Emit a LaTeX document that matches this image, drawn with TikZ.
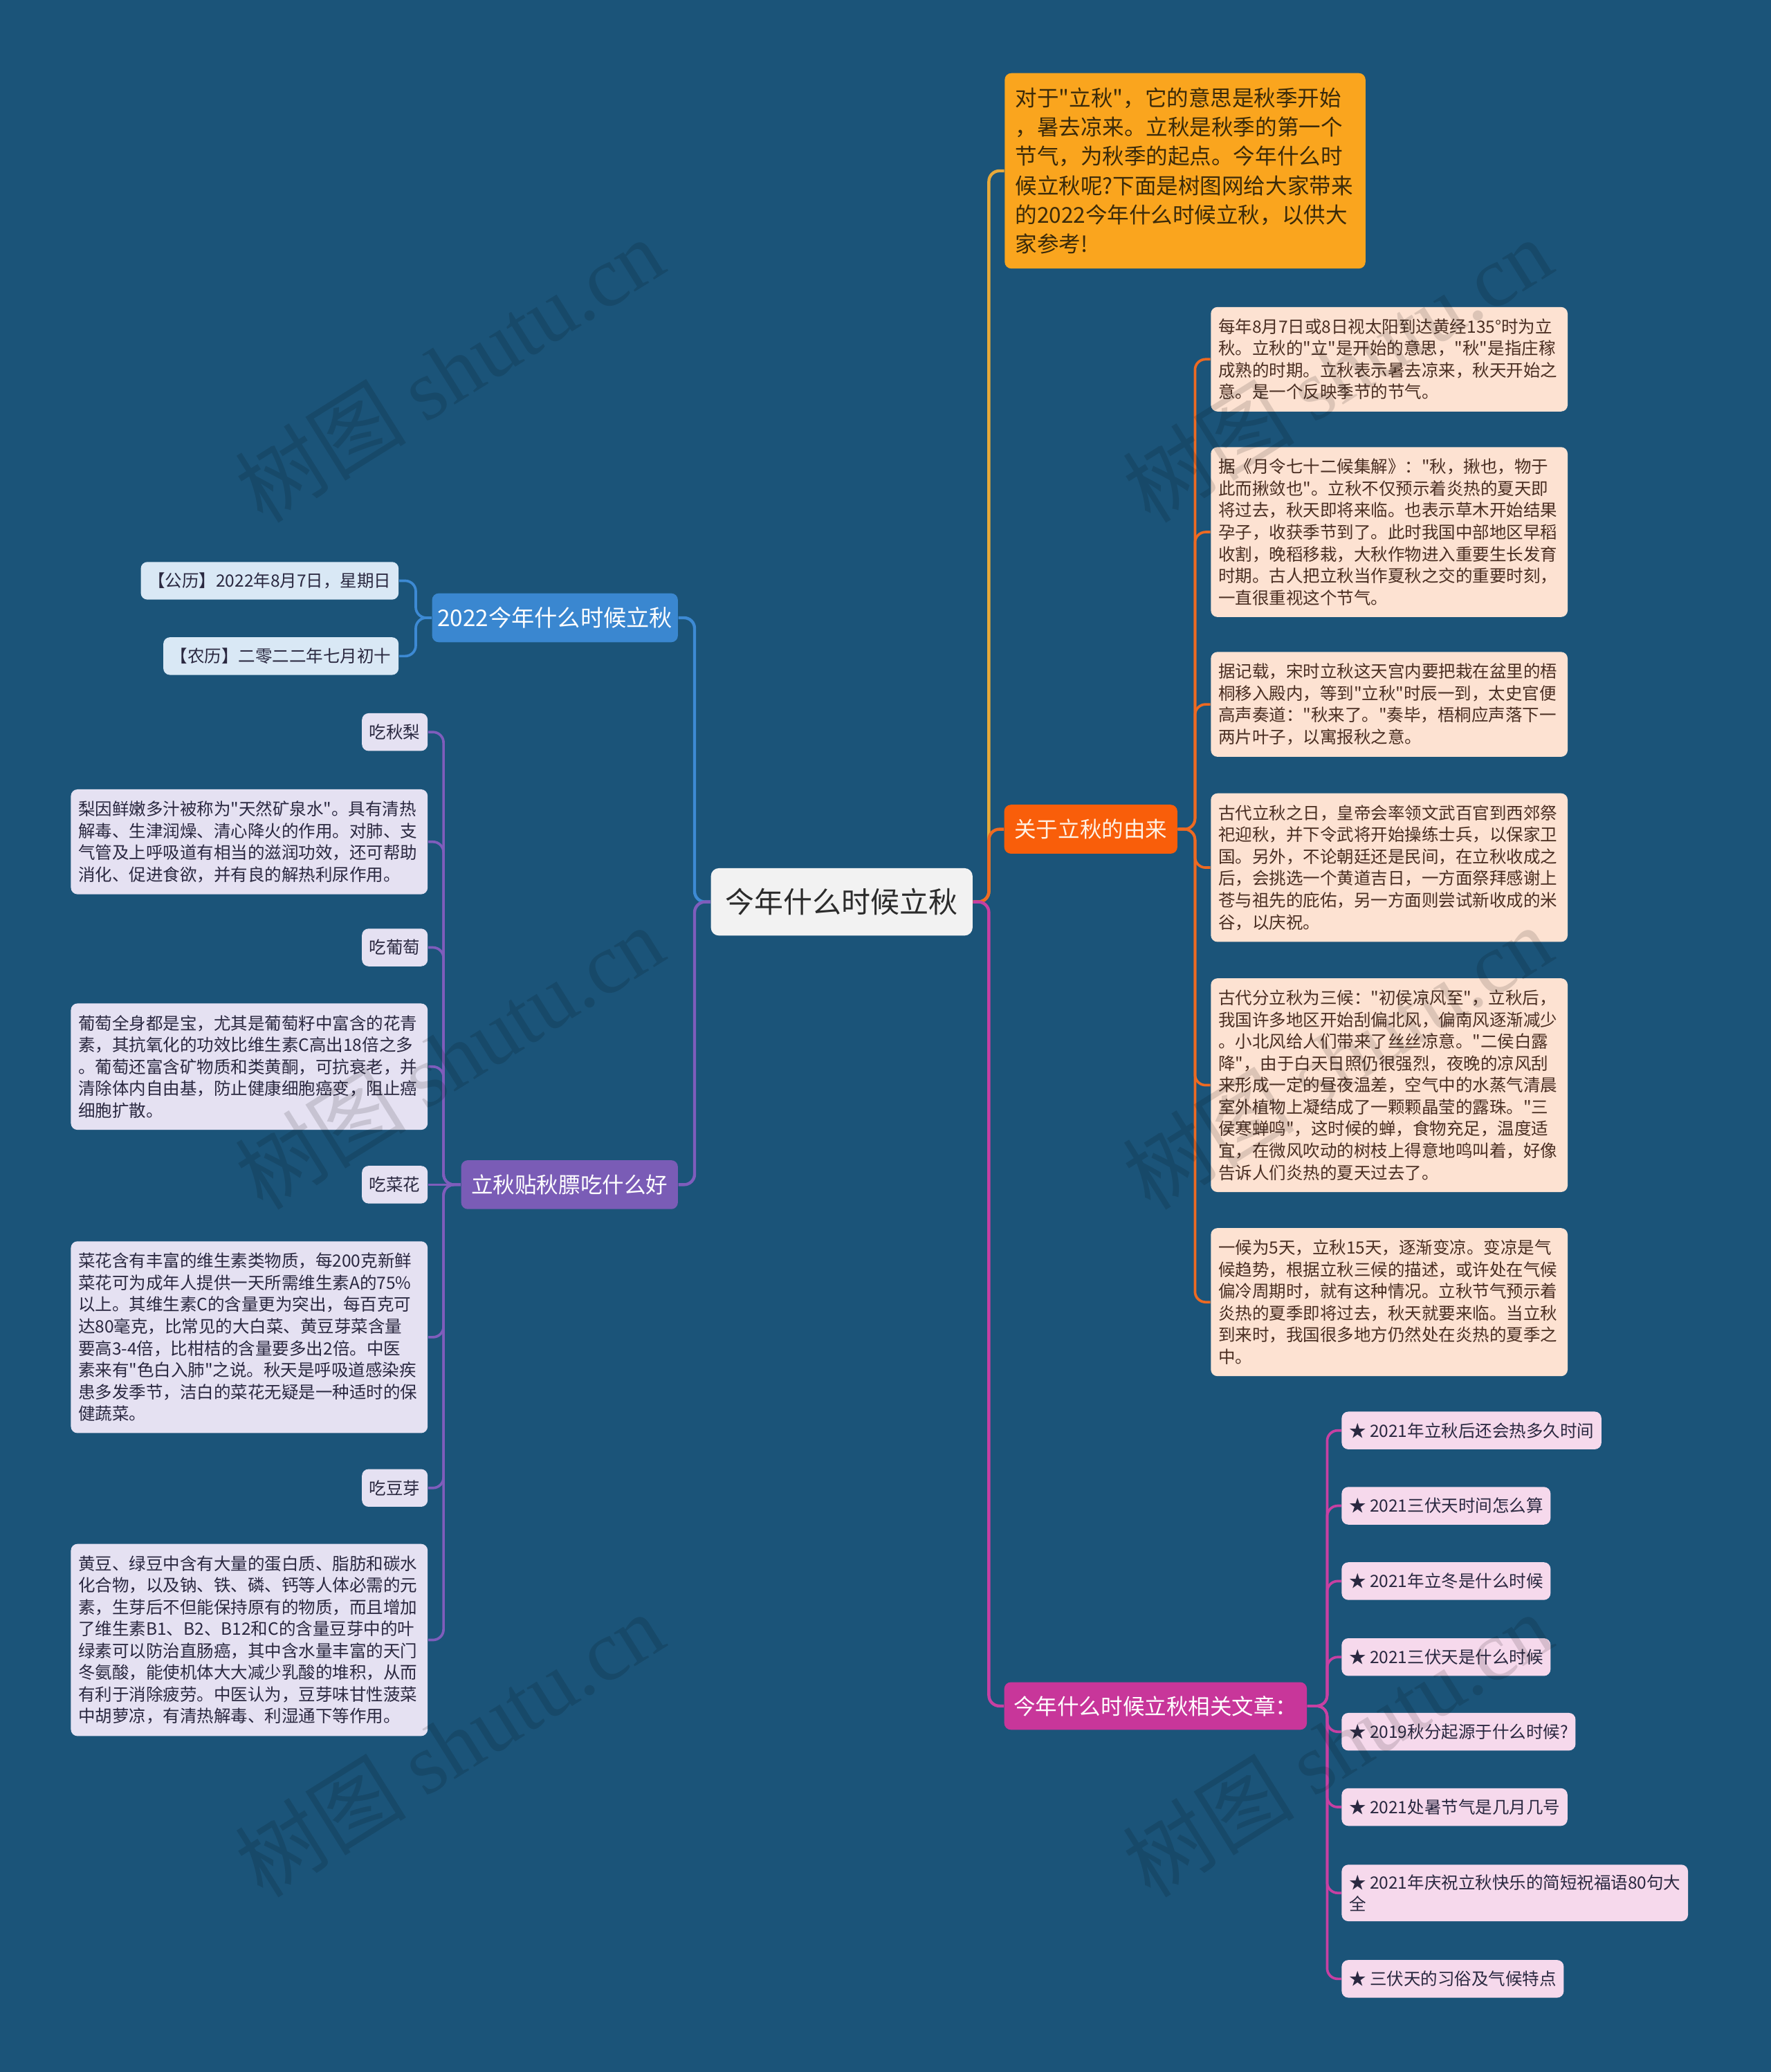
\documentclass[tikz,border=0pt]{standalone}
\usepackage{fontspec}
\setmainfont{Noto Sans CJK SC}[Ligatures=TeXOff]
\newfontfamily\wmfont{Liberation Serif}

\definecolor{bgblue}{HTML}{1B5479}
\definecolor{rootfill}{HTML}{F2F2F2}
\definecolor{rootink}{HTML}{2B2B2B}
\definecolor{introfill}{HTML}{FAA51E}
\definecolor{introink}{HTML}{3A2A0A}
\definecolor{originfill}{HTML}{F95E0A}
\definecolor{relatedfill}{HTML}{C8369A}
\definecolor{datefill}{HTML}{3A87D0}
\definecolor{foodfill}{HTML}{7A5CB6}
\definecolor{peach}{HTML}{FDE2D2}
\definecolor{lavender}{HTML}{E5E1F2}
\definecolor{iceblue}{HTML}{D9E8F5}
\definecolor{pinkish}{HTML}{F6D9EC}
\definecolor{inkbrown}{HTML}{4A2E22}
\definecolor{inknavy}{HTML}{2A2840}
\definecolor{yellowln}{HTML}{E7A93A}
\definecolor{orangeln}{HTML}{EE6A22}
\definecolor{magln}{HTML}{C740A2}
\definecolor{blueln}{HTML}{3D8AD4}
\definecolor{purpleln}{HTML}{7F5DBC}

\begin{document}
\begin{tikzpicture}[x=0.2mm, y=-0.2mm,
  rootbox/.style={fill=rootfill, text=rootink, rounded corners=1.2mm, inner sep=0pt,
    minimum width=39.6mm, minimum height=10.2mm, font=\fontsize{12.5pt}{15pt}\selectfont},
  branch/.style={rounded corners=1mm, text=white, inner sep=0pt, minimum height=7.4mm,
    font=\fontsize{9.4pt}{11pt}\selectfont},
  introbox/.style={fill=introfill, text=introink, rounded corners=1mm, inner xsep=4.5pt,
    inner ysep=6.2pt, text width=54.6mm-9pt, align=left, font=\fontsize{9.4pt}{12.6pt}\selectfont},
  note/.style={rounded corners=1mm, inner xsep=3.2pt, inner ysep=5pt, text width=54mm-6.4pt,
    align=left, font=\fontsize{7.3pt}{9.4pt}\selectfont},
  tag/.style={rounded corners=1mm, inner xsep=3.2pt, inner ysep=2pt, minimum height=5.7mm,
    align=left, font=\fontsize{7.3pt}{9.4pt}\selectfont},
  link/.style={line width=1.3pt, rounded corners=1.6mm},
  sublink/.style={line width=1.1pt, rounded corners=1.6mm},
  watermark/.style={rotate=32, text=black, text opacity=0.13, font=\fontsize{37pt}{40pt}\selectfont}]

  % background
  \fill[bgblue] (0,0) rectangle (1340,1568);

  % centre topic
  \node[rootbox] (root) at (637,682.5) {今年什么时候立秋};

  % right: intro
  \node[introbox, anchor=north west] (intro) at (760,55) {对于"立秋"，它的意思是秋季开始\\，暑去凉来。立秋是秋季的第一个\\节气，为秋季的起点。今年什么时\\候立秋呢?下面是树图网给大家带来\\的2022今年什么时候立秋，以供大\\家参考!};

  % right: origin branch
  \node[branch, fill=originfill, text=white!90!orange, minimum width=26.2mm] (origin) at (825.5,627.5) {关于立秋的由来};
  \node[note, fill=peach, text=inkbrown, anchor=north west] (ori1) at (916,232) {每年8月7日或8日视太阳到达黄经135°时为立\\秋。立秋的"立"是开始的意思，"秋"是指庄稼\\成熟的时期。立秋表示暑去凉来，秋天开始之\\意。是一个反映季节的节气。};
  \node[note, fill=peach, text=inkbrown, anchor=north west] (ori2) at (916,338) {据《月令七十二候集解》："秋，揪也，物于\\此而揪敛也"。立秋不仅预示着炎热的夏天即\\将过去，秋天即将来临。也表示草木开始结果\\孕子，收获季节到了。此时我国中部地区早稻\\收割，晚稻移栽，大秋作物进入重要生长发育\\时期。古人把立秋当作夏秋之交的重要时刻，\\一直很重视这个节气。};
  \node[note, fill=peach, text=inkbrown, anchor=north west] (ori3) at (916,493) {据记载，宋时立秋这天宫内要把栽在盆里的梧\\桐移入殿内，等到"立秋"时辰一到，太史官便\\高声奏道："秋来了。"奏毕，梧桐应声落下一\\两片叶子，以寓报秋之意。};
  \node[note, fill=peach, text=inkbrown, anchor=north west] (ori4) at (916,600) {古代立秋之日，皇帝会率领文武百官到西郊祭\\祀迎秋，并下令武将开始操练士兵，以保家卫\\国。另外，不论朝廷还是民间，在立秋收成之\\后，会挑选一个黄道吉日，一方面祭拜感谢上\\苍与祖先的庇佑，另一方面则尝试新收成的米\\谷，以庆祝。};
  \node[note, fill=peach, text=inkbrown, anchor=north west] (ori5) at (916,740) {古代分立秋为三候："初侯凉风至"，立秋后，\\我国许多地区开始刮偏北风，偏南风逐渐减少\\。小北风给人们带来了丝丝凉意。"二侯白露\\降"，由于白天日照仍很强烈，夜晚的凉风刮\\来形成一定的昼夜温差，空气中的水蒸气清晨\\室外植物上凝结成了一颗颗晶莹的露珠。"三\\侯寒蝉鸣"，这时候的蝉，食物充足，温度适\\宜，在微风吹动的树枝上得意地鸣叫着，好像\\告诉人们炎热的夏天过去了。};
  \node[note, fill=peach, text=inkbrown, anchor=north west] (ori6) at (916,929) {一候为5天，立秋15天，逐渐变凉。变凉是气\\候趋势，根据立秋三候的描述，或许处在气候\\偏冷周期时，就有这种情况。立秋节气预示着\\炎热的夏季即将过去，秋天就要来临。当立秋\\到来时，我国很多地方仍然处在炎热的夏季之\\中。};

  % right: related articles
  \node[branch, fill=relatedfill, minimum width=45.8mm, minimum height=7.2mm] (related) at (874.5,1291) {今年什么时候立秋相关文章：};
  \node[tag, fill=pinkish, text=inknavy, anchor=west] (art1) at (1015,1082.5) {★ 2021年立秋后还会热多久时间};
  \node[tag, fill=pinkish, text=inknavy, anchor=west] (art2) at (1015,1139.5) {★ 2021三伏天时间怎么算};
  \node[tag, fill=pinkish, text=inknavy, anchor=west] (art3) at (1015,1196.5) {★ 2021年立冬是什么时候};
  \node[tag, fill=pinkish, text=inknavy, anchor=west] (art4) at (1015,1254) {★ 2021三伏天是什么时候};
  \node[tag, fill=pinkish, text=inknavy, anchor=west] (art5) at (1015,1310.5) {★ 2019秋分起源于什么时候?};
  \node[tag, fill=pinkish, text=inknavy, anchor=west] (art6) at (1015,1367.5) {★ 2021处暑节气是几月几号};
  \node[tag, fill=pinkish, text=inknavy, anchor=west, inner ysep=4.2pt] (art7) at (1015,1432.5) {★ 2021年庆祝立秋快乐的简短祝福语80句大\\全};
  \node[tag, fill=pinkish, text=inknavy, anchor=west] (art8) at (1015,1497.5) {★ 三伏天的习俗及气候特点};

  % left: date branch
  \node[branch, fill=datefill, minimum width=37.2mm, font=\fontsize{9.9pt}{12pt}\selectfont] (date) at (420,467.5) {2022今年什么时候立秋};
  \node[tag, fill=iceblue, text=inknavy, anchor=east] (solar) at (302,439.5) {【公历】2022年8月7日，星期日};
  \node[tag, fill=iceblue, text=inknavy, anchor=east] (lunar) at (302,496.5) {【农历】二零二二年七月初十};

  % left: food branch
  \node[branch, fill=foodfill, minimum width=32.8mm] (food) at (431,896.5) {立秋贴秋膘吃什么好};
  \node[tag, fill=lavender, text=inknavy, anchor=east] (pear) at (324,554) {吃秋梨};
  \node[note, fill=lavender, text=inknavy, anchor=north east] (pearnote) at (324,597) {梨因鲜嫩多汁被称为"天然矿泉水"。具有清热\\解毒、生津润燥、清心降火的作用。对肺、支\\气管及上呼吸道有相当的滋润功效，还可帮助\\消化、促进食欲，并有良的解热利尿作用。};
  \node[tag, fill=lavender, text=inknavy, anchor=east] (grape) at (324,717) {吃葡萄};
  \node[note, fill=lavender, text=inknavy, anchor=north east] (grapenote) at (324,759) {葡萄全身都是宝，尤其是葡萄籽中富含的花青\\素，其抗氧化的功效比维生素C高出18倍之多\\。葡萄还富含矿物质和类黄酮，可抗衰老，并\\清除体内自由基，防止健康细胞癌变，阻止癌\\细胞扩散。};
  \node[tag, fill=lavender, text=inknavy, anchor=east] (cauli) at (324,896.5) {吃菜花};
  \node[note, fill=lavender, text=inknavy, anchor=north east] (caulinote) at (324,939) {菜花含有丰富的维生素类物质，每200克新鲜\\菜花可为成年人提供一天所需维生素A的75\%\\以上。其维生素C的含量更为突出，每百克可\\达80毫克，比常见的大白菜、黄豆芽菜含量\\要高3-4倍，比柑桔的含量要多出2倍。中医\\素来有"色白入肺"之说。秋天是呼吸道感染疾\\患多发季节，洁白的菜花无疑是一种适时的保\\健蔬菜。};
  \node[tag, fill=lavender, text=inknavy, anchor=east] (sprout) at (324,1126) {吃豆芽};
  \node[note, fill=lavender, text=inknavy, anchor=north east] (sproutnote) at (324,1168) {黄豆、绿豆中含有大量的蛋白质、脂肪和碳水\\化合物，以及钠、铁、磷、钙等人体必需的元\\素，生芽后不但能保持原有的物质，而且增加\\了维生素B1、B2、B12和C的含量豆芽中的叶\\绿素可以防治直肠癌，其中含水量丰富的天门\\冬氨酸，能使机体大大减少乳酸的堆积，从而\\有利于消除疲劳。中医认为，豆芽味甘性菠菜\\中胡萝凉，有清热解毒、利湿通下等作用。};

  % main links
  \draw[link, yellowln] (root.east) -- ++(12,0) |- (intro.west);
  \draw[link, orangeln] (root.east) -- ++(12,0) |- (origin.west);
  \draw[link, magln] (root.east) -- ++(12,0) |- (related.west);
  \draw[link, blueln] (root.west) -- ++(-12,0) |- (date.east);
  \draw[link, purpleln] (root.west) -- ++(-12,0) |- (food.east);

  % sub links
  \foreach \k in {ori1,ori2,ori3,ori4,ori5,ori6}
    \draw[sublink, orangeln] (origin.east) -- ++(13,0) |- (\k.west);
  \foreach \k in {art1,art2,art3,art4,art5,art6,art7,art8}
    \draw[sublink, magln] (related.east) -- ++(15,0) |- (\k.west);
  \foreach \k in {solar,lunar}
    \draw[sublink, blueln] (date.west) -- ++(-12,0) |- (\k.east);
  \foreach \k in {pear,pearnote,grape,grapenote,caulinote,sprout,sproutnote}
    \draw[sublink, purpleln] (food.west) -- ++(-13,0) |- (\k.east);
  \draw[sublink, purpleln] (food.west) -- (cauli.east);

  % watermarks
  \foreach \wx/\wy in {340/280,1012/280,340/800,1012/800,340/1320,1012/1320}
    \node[watermark] (wm-\wx-\wy) at (\wx,\wy) {树图 {\wmfont shutu.cn}};
\end{tikzpicture}
\end{document}
